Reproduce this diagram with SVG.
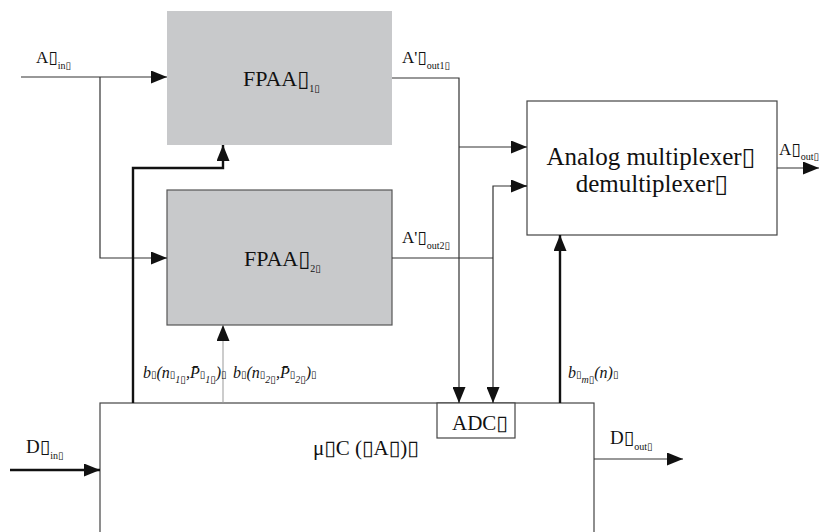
<svg xmlns="http://www.w3.org/2000/svg" width="819" height="532" viewBox="0 0 819 532">
<style>
text{font-family:"Liberation Serif","DejaVu Serif",serif;fill:#111;}
.fp{font-size:22px;}
.mx{font-size:25px;}
.mid{font-size:21px;}
.lab{font-size:17px;}
.dl{font-size:19px;}
.bl{font-size:16px;font-style:italic;}
.bx{font-size:10px;font-style:normal;}
.sub{font-size:10px;}
.thin{stroke:#333;stroke-width:1.2;fill:none;}
.thick{stroke:#111;stroke-width:2.4;fill:none;}
.gray{stroke:#999;stroke-width:1;fill:none;}
.box{fill:#fff;stroke:#444;stroke-width:1.2;}
.fpaa{fill:#c8c9cb;}
</style>
<defs>
<marker id="ah" markerUnits="userSpaceOnUse" markerWidth="16" markerHeight="13" refX="16" refY="6.5" orient="auto">
<path d="M0,0 L16,6.5 L0,13 z" fill="#111"/>
</marker>
</defs>

<g id="fpaa1">
<rect class="fpaa" x="167" y="11" width="225" height="134"/>
<text class="fp" x="243" y="86">FPAA▯<tspan class="sub" dy="6">1▯</tspan></text>
</g>
<g id="fpaa2">
<rect class="fpaa" x="167" y="190" width="225" height="135" stroke="#555" stroke-width="1.2"/>
<text class="fp" x="244" y="266">FPAA▯<tspan class="sub" dy="6">2▯</tspan></text>
</g>
<g id="mux">
<rect class="box" x="527" y="101" width="250" height="134"/>
<text class="mx" x="651" y="165" text-anchor="middle">Analog multiplexer▯</text>
<text class="mx" x="652" y="192" text-anchor="middle">demultiplexer▯</text>
</g>
<g id="uc">
<rect class="box" x="100" y="403" width="494" height="140"/>
<text class="mid" x="313" y="455">μ▯C (▯A▯)▯</text>
</g>
<g id="adc">
<rect class="box" x="437" y="403" width="78" height="35"/>
<text class="mid" x="452" y="430">ADC▯</text>
</g>

<g id="connectors">
<path class="thin" d="M21,77 H167" marker-end="url(#ah)"/>
<path class="thin" d="M100,77 V258 H167" marker-end="url(#ah)"/>
<path class="thick" d="M133,403 V168 H223 V145" marker-end="url(#ah)"/>
<path class="gray" d="M223,403 V325" marker-end="url(#ah)"/>
<path class="thin" d="M392,78 H459 V403" marker-end="url(#ah)"/>
<path class="thin" d="M459,147 H527" marker-end="url(#ah)"/>
<path class="thin" d="M392,258 H493"/>
<path class="thin" d="M527,186 H493 V403" marker-end="url(#ah)"/>
<path class="thin" d="M510,186 H527" marker-end="url(#ah)"/>
<path class="thick" d="M560,403 V235" marker-end="url(#ah)"/>
<path class="thin" d="M777,168 H819" marker-end="url(#ah)"/>
<path class="thick" d="M10,470 H100" marker-end="url(#ah)"/>
<path class="thin" d="M594,459 H683" marker-end="url(#ah)"/>
</g>

<g id="labels">
<text class="lab" x="36" y="63">A▯<tspan class="sub" dy="6">in▯</tspan></text>
<text class="lab" x="402" y="63">A'▯<tspan class="sub" dy="6">out1▯</tspan></text>
<text class="lab" x="402" y="243">A'▯<tspan class="sub" dy="6">out2▯</tspan></text>
<text class="lab" x="779" y="155">A▯<tspan class="sub" dy="5">out▯</tspan></text>
<text class="dl" x="26" y="453">D▯<tspan class="sub" dy="6">in▯</tspan></text>
<text class="dl" x="610" y="444">D▯<tspan class="sub" dy="6">out▯</tspan></text>
<text class="bl" x="143" y="378">b<tspan class="bx">▯</tspan>(n<tspan class="bx">▯</tspan><tspan class="sub" dy="5">1▯</tspan><tspan dy="-5">,P̄</tspan><tspan class="bx">▯</tspan><tspan class="sub" dy="5">1▯</tspan><tspan dy="-5">)</tspan><tspan class="bx">▯</tspan></text>
<text class="bl" x="233" y="378">b<tspan class="bx">▯</tspan>(n<tspan class="bx">▯</tspan><tspan class="sub" dy="5">2▯</tspan><tspan dy="-5">,P̄</tspan><tspan class="bx">▯</tspan><tspan class="sub" dy="5">2▯</tspan><tspan dy="-5">)</tspan><tspan class="bx">▯</tspan></text>
<text class="bl" x="568" y="378">b<tspan class="bx">▯</tspan><tspan class="sub" dy="5">m▯</tspan><tspan dy="-5">(n)</tspan><tspan class="bx">▯</tspan></text>
</g>
</svg>
